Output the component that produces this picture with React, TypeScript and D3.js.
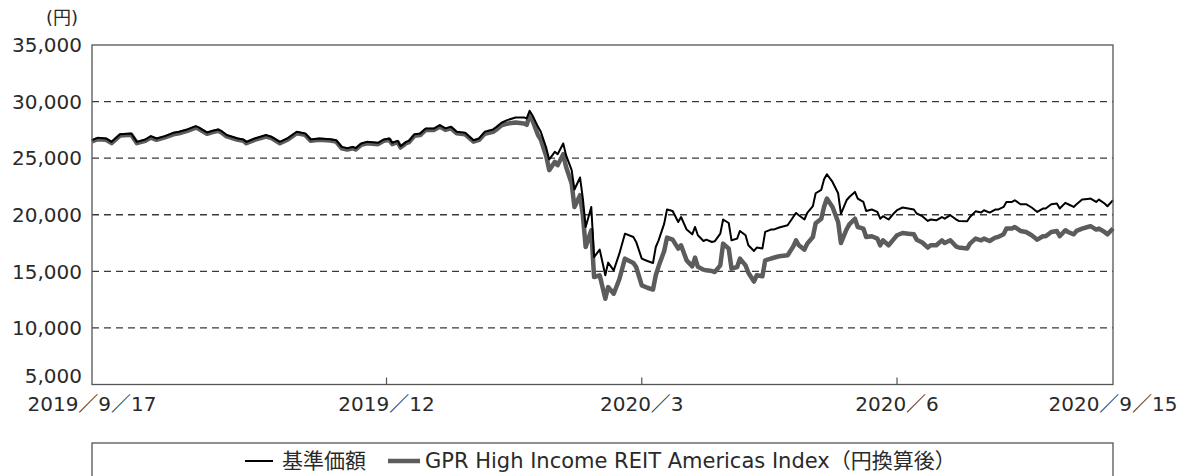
import React from "react";
import * as d3 from "d3";

// 日付（基準日）
const dates = [
  "2019-09-17", "2019-09-19", "2019-09-22", "2019-09-24", "2019-09-27", "2019-10-01", "2019-10-03", "2019-10-06",
  "2019-10-08", "2019-10-10", "2019-10-13", "2019-10-16", "2019-10-18", "2019-10-21", "2019-10-24", "2019-10-25",
  "2019-10-28", "2019-10-30", "2019-11-01", "2019-11-02", "2019-11-04", "2019-11-08", "2019-11-10", "2019-11-11",
  "2019-11-14", "2019-11-18", "2019-11-20", "2019-11-23", "2019-11-26", "2019-11-29", "2019-12-02", "2019-12-04",
  "2019-12-07", "2019-12-11", "2019-12-13", "2019-12-15", "2019-12-17", "2019-12-19", "2019-12-20", "2019-12-22",
  "2019-12-24", "2019-12-28", "2019-12-30", "2020-01-01", "2020-01-02", "2020-01-04", "2020-01-05", "2020-01-07",
  "2020-01-08", "2020-01-10", "2020-01-12", "2020-01-14", "2020-01-17", "2020-01-19", "2020-01-21", "2020-01-23",
  "2020-01-25", "2020-01-28", "2020-01-31", "2020-02-02", "2020-02-04", "2020-02-07", "2020-02-08", "2020-02-10",
  "2020-02-12", "2020-02-15", "2020-02-18", "2020-02-19", "2020-02-20", "2020-02-21", "2020-02-23", "2020-02-24",
  "2020-02-26", "2020-02-27", "2020-02-29", "2020-03-01", "2020-03-03", "2020-03-04", "2020-03-06", "2020-03-07",
  "2020-03-09", "2020-03-10", "2020-03-11", "2020-03-13", "2020-03-14", "2020-03-16", "2020-03-18", "2020-03-19",
  "2020-03-21", "2020-03-23", "2020-03-25", "2020-03-28", "2020-03-29", "2020-03-31", "2020-04-02", "2020-04-04",
  "2020-04-05", "2020-04-06", "2020-04-08", "2020-04-09", "2020-04-11", "2020-04-13", "2020-04-14", "2020-04-16",
  "2020-04-18", "2020-04-19", "2020-04-20", "2020-04-22", "2020-04-23", "2020-04-25", "2020-04-26", "2020-04-28",
  "2020-04-29", "2020-05-01", "2020-05-02", "2020-05-04", "2020-05-05", "2020-05-07", "2020-05-08", "2020-05-10",
  "2020-05-11", "2020-05-13", "2020-05-14", "2020-05-16", "2020-05-17", "2020-05-19", "2020-05-22", "2020-05-24",
  "2020-05-25", "2020-05-26", "2020-05-28", "2020-05-29", "2020-05-31", "2020-06-01", "2020-06-03", "2020-06-04",
  "2020-06-05", "2020-06-07", "2020-06-09", "2020-06-10", "2020-06-12", "2020-06-13", "2020-06-15", "2020-06-16",
  "2020-06-18", "2020-06-19", "2020-06-21", "2020-06-23", "2020-06-24", "2020-06-25", "2020-06-27", "2020-06-29",
  "2020-06-30", "2020-07-02", "2020-07-04", "2020-07-06", "2020-07-07", "2020-07-09", "2020-07-11", "2020-07-12",
  "2020-07-14", "2020-07-16", "2020-07-17", "2020-07-19", "2020-07-21", "2020-07-22", "2020-07-25", "2020-07-26",
  "2020-07-28", "2020-07-30", "2020-07-31", "2020-08-02", "2020-08-04", "2020-08-05", "2020-08-07", "2020-08-08",
  "2020-08-10", "2020-08-11", "2020-08-13", "2020-08-15", "2020-08-17", "2020-08-19", "2020-08-21", "2020-08-22",
  "2020-08-24", "2020-08-26", "2020-08-27", "2020-08-29", "2020-08-30", "2020-09-01", "2020-09-02", "2020-09-04",
  "2020-09-06", "2020-09-07", "2020-09-09", "2020-09-10", "2020-09-12", "2020-09-13", "2020-09-15",
];

// 基準価額（円）
const basePrice = [
  26590, 26800, 26740, 26440, 27120, 27180, 26440, 26650, 26950, 26740, 26950, 27240, 27330, 27540, 27830, 27720,
  27270, 27420, 27540, 27420, 27040, 26740, 26650, 26440, 26740, 27040, 26890, 26440, 26800, 27330, 27180, 26650,
  26740, 26680, 26590, 26000, 25880, 26000, 25880, 26300, 26440, 26360, 26650, 26740, 26360, 26530, 26060, 26440,
  26530, 27120, 27180, 27630, 27630, 27920, 27630, 27770, 27330, 27240, 26590, 26740, 27330, 27540, 27720, 28130,
  28360, 28600, 28600, 28510, 29190, 28800, 27770, 27330, 25860, 24880, 25560, 25350, 26300, 25270, 23940, 22230,
  23290, 21430, 18920, 20690, 16260, 16920, 14650, 15770, 15090, 16560, 18330, 18030, 17600, 16120, 15910, 15740,
  17150, 17740, 19220, 20460, 20330, 19360, 19800, 18690, 18270, 18920, 18190, 17680, 17800, 17590, 17650, 18330,
  19580, 19270, 17740, 17890, 18570, 18190, 17300, 16800, 17100, 17010, 18480, 18690, 18690, 18870, 19070, 19800,
  20160, 19960, 19580, 20160, 20760, 21900, 22200, 23140, 23580, 22900, 21900, 20080, 21280, 21570, 22020, 21430,
  21130, 20330, 20460, 20250, 19650, 19870, 19580, 20160, 20400, 20640, 20550, 20460, 20110, 19870, 19450, 19580,
  19510, 19800, 19650, 19960, 19600, 19450, 19420, 19800, 20300, 20200, 20400, 20190, 20460, 20460, 20690, 21130,
  21130, 21280, 20930, 20930, 20640, 20250, 20550, 20550, 20930, 20990, 20550, 21050, 20930, 20690, 20930, 21340,
  21400, 21430, 21130, 21340, 20990, 20750, 21280,
];

// GPR High Income REIT Americas Index（円換算後）
const indexValue = [
  26480, 26680, 26620, 26330, 27000, 27060, 26330, 26530, 26820, 26620, 26830, 27110, 27200, 27420, 27700, 27600,
  27150, 27300, 27420, 27290, 26920, 26620, 26530, 26320, 26620, 26910, 26770, 26320, 26680, 27200, 27060, 26530,
  26620, 26560, 26470, 25880, 25760, 25880, 25760, 26180, 26320, 26240, 26530, 26620, 26240, 26410, 25940, 26320,
  26410, 26990, 27050, 27500, 27500, 27790, 27500, 27640, 27200, 27110, 26460, 26610, 27150, 27330, 27500, 27900,
  28050, 28150, 28070, 27950, 28800, 28360, 27040, 26650, 25120, 23940, 24680, 24380, 25350, 24240, 22760, 20690,
  21730, 19960, 17150, 18630, 14500, 14650, 12580, 13610, 13020, 14300, 16120, 15740, 15380, 13760, 13550, 13390,
  14650, 15440, 16800, 17980, 17800, 17010, 17300, 15970, 15440, 16210, 15400, 15150, 15090, 15030, 14940, 15530,
  17450, 17010, 15240, 15380, 16120, 15530, 14880, 14100, 14650, 14560, 15970, 16120, 16200, 16330, 16420, 17200,
  17740, 17300, 16920, 17450, 18030, 19250, 19650, 20700, 21430, 20690, 19360, 17500, 18700, 19150, 19650, 18920,
  18780, 18030, 18100, 17890, 17300, 17740, 17300, 17890, 18190, 18390, 18330, 18270, 17800, 17550, 17100, 17300,
  17300, 17740, 17500, 17740, 17210, 17100, 17010, 17450, 17890, 17740, 17890, 17680, 17980, 18030, 18270, 18780,
  18780, 18920, 18570, 18480, 18190, 17800, 18100, 18100, 18480, 18570, 18100, 18630, 18480, 18270, 18570, 18780,
  18920, 18990, 18690, 18780, 18480, 18270, 18780,
];

const yTicks = [5000, 10000, 15000, 20000, 25000, 30000, 35000];
const xTickDates = ["2019-12-31", "2020-03-31", "2020-06-30"];
const xTickLabels = ["2019／12", "2020／3", "2020／6"];
const startLabel = "2019／9／17";
const endLabel = "2020／9／15";
const seriesNames = ["基準価額", "GPR High Income REIT Americas Index（円換算後）"];

const W = 1188;
const H = 476;
const M = { left: 92, right: 1113, top: 45, bottom: 384.5 };
const FONT = "'DejaVu Sans', 'Noto Sans CJK JP', sans-serif";
const TEXT = "#2a2a2a";

export default function App() {
  const parse = d3.timeParse("%Y-%m-%d");
  const rows = dates.map((d, i) => ({ date: parse(d) as Date, base: basePrice[i], idx: indexValue[i] }));

  const x = d3
    .scaleTime()
    .domain([parse("2019-09-17") as Date, parse("2020-09-15") as Date])
    .range([M.left, M.right]);
  const y = d3.scaleLinear().domain([5000, 35000]).range([M.bottom, M.top]);

  const baseLine = d3
    .line<any>()
    .x((d) => x(d.date))
    .y((d) => y(d.base));
  const idxLine = d3
    .line<any>()
    .x((d) => x(d.date))
    .y((d) => y(d.idx));

  const fmt = d3.format(",");

  return (
    <svg
      width={W}
      height={H}
      style={{ position: "absolute", left: 0, top: 0, background: "#fff" }}
      fontFamily={FONT}
    >
      {/* grid lines */}
      {yTicks
        .filter((t) => t > 5000 && t < 35000)
        .map((t) => (
          <line
            key={t}
            x1={M.left}
            x2={M.right}
            y1={y(t)}
            y2={y(t)}
            stroke="#3a3a3a"
            strokeWidth={1.3}
            strokeDasharray="7,5"
          />
        ))}

      {/* series */}
      <path d={idxLine(rows) || ""} fill="none" stroke="#5c5c5c" strokeWidth={4.5} strokeLinejoin="round" />
      <path d={baseLine(rows) || ""} fill="none" stroke="#000" strokeWidth={2} strokeLinejoin="round" />

      {/* frame */}
      <rect
        x={M.left}
        y={M.top}
        width={M.right - M.left}
        height={M.bottom - M.top}
        fill="none"
        stroke="#555"
        strokeWidth={1.3}
      />

      {/* x ticks */}
      {xTickDates.map((d) => {
        const xx = x(parse(d) as Date);
        return <line key={d} x1={xx} x2={xx} y1={M.bottom} y2={M.bottom - 7} stroke="#555" strokeWidth={1.2} />;
      })}

      {/* y labels (5,000 sits a bit higher, as in the original) */}
      {yTicks.map((t) => (
        <text
          key={t}
          x={82}
          y={t === 5000 ? y(t) - 9 : y(t)}
          dy="0.36em"
          textAnchor="end"
          fontSize={20}
          fill={TEXT}
        >
          {fmt(t)}
        </text>
      ))}
      <text x={62} y={24} textAnchor="middle" fontSize={18} fill={TEXT}>
        (円)
      </text>

      {/* x labels */}
      <text x={M.left} y={411} textAnchor="middle" fontSize={20} fill={TEXT}>
        {startLabel}
      </text>
      {xTickDates.map((d, i) => (
        <text key={d} x={x(parse(d) as Date)} y={411} textAnchor="middle" fontSize={20} fill={TEXT}>
          {xTickLabels[i]}
        </text>
      ))}
      <text x={M.right} y={411} textAnchor="middle" fontSize={20} fill={TEXT}>
        {endLabel}
      </text>

      {/* legend */}
      <rect x={M.left} y={443} width={M.right - M.left} height={60} fill="none" stroke="#555" strokeWidth={1.3} />
      <line x1={245} x2={273} y1={461} y2={461} stroke="#000" strokeWidth={2} />
      <text x={282} y={468} fontSize={21} fill={TEXT}>
        {seriesNames[0]}
      </text>
      <line x1={388} x2={420} y1={461} y2={461} stroke="#5c5c5c" strokeWidth={4.5} />
      <text x={425} y={468} fontSize={21} fill={TEXT}>
        {seriesNames[1]}
      </text>
    </svg>
  );
}
